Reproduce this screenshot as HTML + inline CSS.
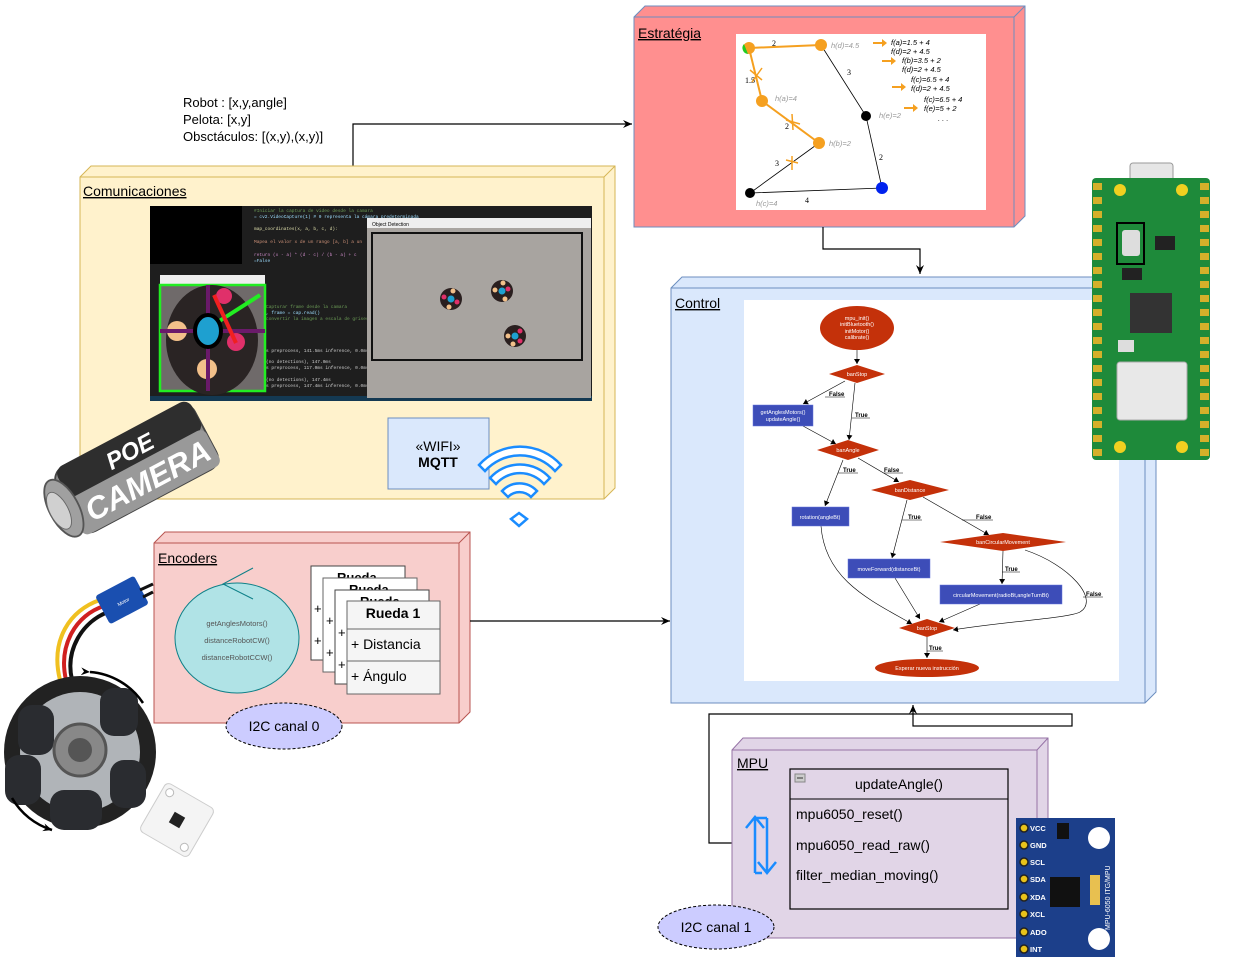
<!DOCTYPE html>
<html><head><meta charset="utf-8"><style>
html,body{margin:0;padding:0;background:#fff;}
svg{display:block;font-family:"Liberation Sans",sans-serif;}
</style></head><body>
<svg width="1251" height="976" viewBox="0 0 1251 976" xmlns="http://www.w3.org/2000/svg">
<defs>
<marker id="ar" markerWidth="10" markerHeight="10" refX="9" refY="5" orient="auto" markerUnits="userSpaceOnUse"><path d="M0,1 L9,5 L0,9 L3,5 z" fill="#000"/></marker>
<marker id="as" markerWidth="6" markerHeight="6" refX="5" refY="3" orient="auto" markerUnits="userSpaceOnUse"><path d="M0,0 L5,3 L0,6 z" fill="#000"/></marker>
</defs>

<text x="183" y="107" font-size="13">Robot : [x,y,angle]</text>
<text x="183" y="124" font-size="13">Pelota: [x,y]</text>
<text x="183" y="141" font-size="13">Obsctáculos: [(x,y),(x,y)]</text>
<polyline points="353,166 353,124 632,124" fill="none" stroke="#000" stroke-width="1.2" marker-end="url(#ar)"/>

<path d="M80,177 L91,166 L615,166 L615,488 L604,499 L80,499 Z" fill="#fff2cc" stroke="#d6b656"/>
<path d="M80,177 L604,177 L615,166 M604,177 L604,499" fill="none" stroke="#d6b656"/>
<text x="83" y="196" font-size="14" text-decoration="underline">Comunicaciones</text>
<rect x="150" y="206" width="442" height="195" fill="#1e1e1e"/>
<rect x="150" y="206" width="92" height="58" fill="#000"/>
<g font-family="Liberation Mono,monospace" font-size="4.5" fill="#9cdcfe">
<text x="254" y="212" fill="#6a9955">#Iniciar la captura de video desde la camara</text>
<text x="254" y="218">= cv2.VideoCapture(1)  # 0 representa la cámara predeterminada</text>
<text x="254" y="230" fill="#dcdcaa">map_coordinates(x, a, b, c, d):</text>
<text x="254" y="243" fill="#ce9178">Mapea el valor x de un rango [a, b] a un</text>
<text x="254" y="256" fill="#c586c0">return (x - a) * (d - c) / (b - a) + c</text>
<text x="254" y="262">=False</text>
<text x="266" y="308" fill="#6a9955">Capturar frame desde la camara</text>
<text x="266" y="314">, frame = cap.read()</text>
<text x="266" y="320" fill="#6a9955">convertir la imagen a escala de grises</text>
<text x="266" y="352" fill="#ccc">s preprocess, 141.5ms inference, 0.0ms</text>
<text x="266" y="363" fill="#ccc">(no detections), 147.0ms</text>
<text x="266" y="369" fill="#ccc">s preprocess, 117.0ms inference, 0.0ms</text>
<text x="266" y="381" fill="#ccc">(no detections), 147.4ms</text>
<text x="266" y="387" fill="#ccc">s preprocess, 147.4ms inference, 0.0ms</text>
</g>
<rect x="150" y="396" width="442" height="5" fill="#007acc" opacity=".3"/>
<rect x="367" y="218" width="224" height="180" fill="#a8a4a0"/>
<rect x="367" y="218" width="224" height="10" fill="#eee"/>
<text x="372" y="226" font-size="5">Object Detection</text>
<rect x="372" y="233" width="210" height="127" fill="none" stroke="#111" stroke-width="2"/>
<g><circle cx="451" cy="299" r="11" fill="#2a1f1f"/><circle cx="451" cy="299" r="3.5" fill="#1ea0d0"/><circle cx="444" cy="297" r="2.5" fill="#e0306a"/><circle cx="457" cy="302" r="2.5" fill="#e0306a"/><circle cx="453" cy="291" r="2.5" fill="#f2c08a"/><circle cx="449" cy="307" r="2.5" fill="#f2c08a"/></g>
<g><circle cx="502" cy="291" r="11" fill="#2a1f1f"/><circle cx="502" cy="291" r="3.5" fill="#1ea0d0"/><circle cx="508" cy="289" r="2.5" fill="#e0306a"/><circle cx="495" cy="290" r="2.5" fill="#f2c08a"/><circle cx="503" cy="283" r="2.5" fill="#f2c08a"/><circle cx="505" cy="299" r="2.5" fill="#f2c08a"/></g>
<g><circle cx="515" cy="336" r="11" fill="#2a1f1f"/><circle cx="515" cy="336" r="3.5" fill="#1ea0d0"/><circle cx="520" cy="331" r="2.5" fill="#e0306a"/><circle cx="520" cy="341" r="2.5" fill="#e0306a"/><circle cx="508" cy="336" r="2.5" fill="#f2c08a"/><circle cx="513" cy="344" r="2.5" fill="#f2c08a"/></g>
<rect x="160" y="275" width="105" height="117" fill="#eee"/>
<rect x="160" y="285" width="105" height="106" fill="#6f6a6a" stroke="#22ee22" stroke-width="2.5"/>
<ellipse cx="212" cy="340" rx="46" ry="55" fill="#2a2424"/>
<circle cx="177" cy="331" r="10" fill="#f2c08a"/><circle cx="207" cy="369" r="10" fill="#f2c08a"/>
<circle cx="224" cy="296" r="8" fill="#e0306a"/><circle cx="236" cy="342" r="9" fill="#e0306a"/>
<line x1="160" y1="331" x2="265" y2="331" stroke="#6a1a6a" stroke-width="4"/>
<line x1="208" y1="285" x2="208" y2="391" stroke="#6a1a6a" stroke-width="4"/>
<line x1="210" y1="327" x2="260" y2="295" stroke="#22ee22" stroke-width="4"/>
<line x1="214" y1="295" x2="236" y2="343" stroke="#f02020" stroke-width="4"/>
<ellipse cx="208" cy="331" rx="13" ry="16" fill="#1ea0d0" stroke="#000" stroke-width="4"/>

<rect x="388" y="418" width="101" height="71" fill="#dae8fc" stroke="#6c8ebf"/>
<text x="438" y="451" font-size="14" text-anchor="middle">«WIFI»</text>
<text x="438" y="467" font-size="14" font-weight="bold" text-anchor="middle">MQTT</text>
<g fill="none" stroke="#1a8cff" stroke-width="2.5">
<path d="M479,465 A55,55 0 0 1 561,465 L555,471 A47,47 0 0 0 485,471 Z" fill="#fff"/>
<path d="M490,478 A40,40 0 0 1 550,478 L544,484 A32,32 0 0 0 496,484 Z" fill="#fff"/>
<path d="M502,491 A24,24 0 0 1 537,491 L531,497 A16,16 0 0 0 508,497 Z" fill="#fff"/>
<path d="M519,513 L527,519 L519,526 L511,519 Z" fill="#fff"/>
</g>

<g transform="translate(128,472) rotate(-28) scale(0.92)">
<rect x="-75" y="-38" width="170" height="78" rx="14" fill="#8a8a8a" stroke="#444" stroke-width="2"/>
<rect x="-70" y="-40" width="165" height="38" rx="10" fill="#2e2e2e"/>
<rect x="-75" y="-4" width="170" height="44" rx="8" fill="#999"/>
<text x="-15" y="-10" font-size="26" font-weight="bold" fill="#fff" font-style="italic">POE</text>
<text x="-60" y="30" font-size="34" font-weight="bold" fill="#fff" font-style="italic">CAMERA</text>
<ellipse cx="-80" cy="2" rx="16" ry="34" fill="#a0a0a0" stroke="#555" stroke-width="2"/>
<ellipse cx="-86" cy="2" rx="10" ry="22" fill="#d0d0d0" stroke="#666"/>
</g>

<path d="M634,17 L645,6 L1025,6 L1025,216 L1014,227 L634,227 Z" fill="#ff8f8f" stroke="#6c8ebf"/>
<path d="M634,17 L1014,17 L1025,6 M1014,17 L1014,227" fill="none" stroke="#6c8ebf"/>
<text x="638" y="38" font-size="14" text-decoration="underline">Estratégia</text>
<rect x="736" y="34" width="250" height="176" fill="#fff"/>
<g>
<polyline points="749,48 821,45" stroke="#f5a020" stroke-width="2" fill="none"/>
<polyline points="749,48 762,101 819,143" stroke="#f5a020" stroke-width="2" fill="none"/>
<polyline points="821,45 866,116 882,188 750,193 819,143" stroke="#000" stroke-width="0.8" fill="none"/>
<path d="M750,70 L762,80 M752,82 L762,68 M786,120 L800,124 M792,114 L793,130 M786,160 L798,163 M792,156 L792,170" stroke="#f5a020" stroke-width="1.5"/>
<circle cx="749" cy="48" r="6" fill="#f5a020"/><path d="M744,44 A6,6 0 0 0 748,54" fill="#2c2"/>
<circle cx="821" cy="45" r="6" fill="#f5a020"/><circle cx="762" cy="101" r="6" fill="#f5a020"/><circle cx="819" cy="143" r="6" fill="#f5a020"/>
<circle cx="866" cy="116" r="5" fill="#000"/><circle cx="750" cy="193" r="5" fill="#000"/><circle cx="882" cy="188" r="6" fill="#0022ee"/>
<g font-size="8" font-family="Liberation Serif,serif">
<text x="772" y="46">2</text><text x="847" y="75">3</text><text x="745" y="83">1.5</text><text x="785" y="129">2</text><text x="775" y="166">3</text><text x="879" y="160">2</text><text x="805" y="203">4</text>
</g>
<g font-size="7.5" fill="#999" font-style="italic">
<text x="831" y="48">h(d)=4.5</text><text x="775" y="101">h(a)=4</text><text x="829" y="146">h(b)=2</text><text x="879" y="118">h(e)=2</text><text x="756" y="206">h(c)=4</text>
</g>
<g font-size="7.5" font-style="italic">
<text x="891" y="45">f(a)=1.5 + 4</text><text x="891" y="54">f(d)=2 + 4.5</text>
<text x="902" y="63">f(b)=3.5 + 2</text><text x="902" y="72">f(d)=2 + 4.5</text>
<text x="911" y="82">f(c)=6.5 + 4</text><text x="911" y="91">f(d)=2 + 4.5</text>
<text x="924" y="102">f(c)=6.5 + 4</text><text x="924" y="111">f(e)=5 + 2</text><text x="938" y="121">. . .</text>
</g>
<g fill="#f5a020"><path d="M873,42 h9 v-3 l5,4 -5,4 v-3 h-9z"/><path d="M882,60 h9 v-3 l5,4 -5,4 v-3 h-9z"/><path d="M892,86 h9 v-3 l5,4 -5,4 v-3 h-9z"/><path d="M904,107 h9 v-3 l5,4 -5,4 v-3 h-9z"/></g>
</g>
<polyline points="823,227 823,249 920,249 920,274" fill="none" stroke="#000" stroke-width="1.2" marker-end="url(#ar)"/>

<path d="M671,288 L682,277 L1156,277 L1156,692 L1145,703 L671,703 Z" fill="#dae8fc" stroke="#6c8ebf"/>
<path d="M671,288 L1145,288 L1156,277 M1145,288 L1145,703" fill="none" stroke="#6c8ebf"/>
<text x="675" y="308" font-size="14" text-decoration="underline">Control</text>
<rect x="744" y="300" width="375" height="381" fill="#fff"/>
<g stroke="#000" stroke-width="0.6" fill="none" marker-end="url(#as)">
<line x1="857" y1="350" x2="857" y2="364"/>
<line x1="845" y1="381" x2="803" y2="404"/>
<line x1="855" y1="383" x2="849" y2="440"/>
<line x1="803" y1="426" x2="836" y2="444"/>
<line x1="843" y1="460" x2="825" y2="506"/>
<line x1="858" y1="458" x2="899" y2="482"/>
<line x1="907" y1="500" x2="892" y2="558"/>
<line x1="923" y1="497" x2="989" y2="535"/>
<line x1="1003" y1="551" x2="1002" y2="584"/>
<path d="M821,526 C825,580 870,600 912,624"/>
<line x1="895" y1="578" x2="920" y2="619"/>
<line x1="980" y1="604" x2="939" y2="622"/>
<path d="M1025,550 C1070,565 1100,600 1080,612 C1070,618 1000,622 953,630"/>
<line x1="927" y1="637" x2="927" y2="658"/>
</g>
<g stroke="#000" stroke-width="0.5">
<line x1="825" y1="397" x2="845" y2="397"/><line x1="852" y1="418" x2="870" y2="418"/><line x1="838" y1="473" x2="858" y2="473"/><line x1="884" y1="473" x2="903" y2="473"/><line x1="902" y1="520" x2="922" y2="520"/><line x1="962" y1="520" x2="993" y2="520"/><line x1="1002" y1="572" x2="1020" y2="572"/><line x1="1083" y1="597" x2="1103" y2="597"/><line x1="927" y1="651" x2="943" y2="651"/>
</g>
<g font-size="6" font-weight="bold">
<text x="829" y="396">False</text><text x="855" y="417">True</text><text x="843" y="472">True</text><text x="884" y="472">False</text><text x="908" y="519">True</text><text x="976" y="519">False</text><text x="1005" y="571">True</text><text x="1086" y="596">False</text><text x="929" y="650">True</text>
</g>
<g fill="#c4310a">
<ellipse cx="857" cy="328" rx="37" ry="22"/>
<path d="M829,374 L857,365 L885,374 L857,383 Z"/>
<path d="M817,450 L848,440 L879,450 L848,460 Z"/>
<path d="M871,490 L910,480 L949,490 L910,500 Z"/>
<path d="M940,542 L1003,533 L1066,542 L1003,551 Z"/>
<path d="M899,628 L927,619 L955,628 L927,637 Z"/>
<ellipse cx="927" cy="668" rx="52" ry="9"/>
</g>
<g fill="#3d4db8" stroke="#6677dd" stroke-width="0.5">
<rect x="753" y="405" width="60" height="21"/><rect x="792" y="507" width="57" height="19"/><rect x="848" y="559" width="82" height="19"/><rect x="940" y="585" width="122" height="19"/>
</g>
<g font-size="5.5" fill="#fff" text-anchor="middle">
<text x="857" y="320">mpu_init()</text><text x="857" y="326">initBluetooth()</text><text x="857" y="333">initMotor()</text><text x="857" y="339">calibrate()</text>
<text x="857" y="376">banStop</text><text x="848" y="452">banAngle</text><text x="910" y="492">banDistance</text><text x="1003" y="544">banCircularMovement</text><text x="927" y="630">banStop</text><text x="927" y="670">Esperar nueva instrucción</text>
<text x="783" y="414">getAnglesMotors()</text><text x="783" y="421">updateAngle()</text>
<text x="820" y="519">rotation(angleBt)</text><text x="889" y="571">moveForward(distanceBt)</text><text x="1001" y="597">circularMovement(radioBt,angleTurnBt)</text>
</g>

<rect x="1130" y="163" width="43" height="30" rx="3" fill="#e6e6e6" stroke="#999"/>
<rect x="1092" y="178" width="118" height="282" rx="4" fill="#1e8a3a"/>
<g id="pads" fill="#d4b02a">
<rect x="1093" y="183" width="9" height="7"/><rect x="1093" y="197" width="9" height="7"/><rect x="1093" y="211" width="9" height="7"/><rect x="1093" y="225" width="9" height="7"/><rect x="1093" y="239" width="9" height="7"/><rect x="1093" y="253" width="9" height="7"/><rect x="1093" y="267" width="9" height="7"/><rect x="1093" y="281" width="9" height="7"/><rect x="1093" y="295" width="9" height="7"/><rect x="1093" y="309" width="9" height="7"/><rect x="1093" y="323" width="9" height="7"/><rect x="1093" y="337" width="9" height="7"/><rect x="1093" y="351" width="9" height="7"/><rect x="1093" y="365" width="9" height="7"/><rect x="1093" y="379" width="9" height="7"/><rect x="1093" y="393" width="9" height="7"/><rect x="1093" y="407" width="9" height="7"/><rect x="1093" y="421" width="9" height="7"/><rect x="1093" y="435" width="9" height="7"/><rect x="1093" y="449" width="9" height="7"/>
</g>
<use href="#pads" x="107"/>
<circle cx="1120" cy="190" r="6" fill="#f0d020"/><circle cx="1182" cy="190" r="6" fill="#f0d020"/>
<circle cx="1120" cy="447" r="6" fill="#f0d020"/><circle cx="1182" cy="447" r="6" fill="#f0d020"/>
<rect x="1117" y="223" width="27" height="41" fill="none" stroke="#000" stroke-width="2"/>
<rect x="1122" y="230" width="18" height="26" rx="3" fill="#ddd"/>
<rect x="1130" y="293" width="42" height="40" fill="#333"/>
<rect x="1155" y="236" width="20" height="14" fill="#222"/>
<rect x="1122" y="268" width="20" height="12" fill="#222"/>
<rect x="1117" y="362" width="70" height="58" rx="3" fill="#e8e8e8" stroke="#aaa"/>
<rect x="1118" y="340" width="16" height="12" fill="#ddd"/>

<path d="M154,543 L165,532 L470,532 L470,712 L459,723 L154,723 Z" fill="#f8cecc" stroke="#b85450"/>
<path d="M154,543 L459,543 L470,532 M459,543 L459,723" fill="none" stroke="#b85450"/>
<text x="158" y="563" font-size="14" text-decoration="underline">Encoders</text>
<ellipse cx="237" cy="638" rx="62" ry="55" fill="#b0e3e6" stroke="#0e8088"/>
<path d="M253,568 L223,584 L253,599" fill="none" stroke="#0e8088"/>
<g font-size="7.5" fill="#555" text-anchor="middle">
<text x="237" y="626">getAnglesMotors()</text><text x="237" y="643">distanceRobotCW()</text><text x="237" y="660">distanceRobotCCW()</text>
</g>
<g stroke="#666" stroke-width="1" font-size="13">
<rect x="311" y="566" width="94" height="94" fill="#fff" stroke="#444"/>
<text x="337" y="582" font-weight="bold" stroke="none">Rueda</text>
<text x="314" y="613" stroke="none">+</text><text x="314" y="645" stroke="none">+</text>
<rect x="323" y="578" width="94" height="94" fill="#fff"/>
<text x="349" y="594" font-weight="bold" stroke="none">Rueda</text>
<text x="326" y="625" stroke="none">+</text><text x="326" y="657" stroke="none">+</text>
<rect x="335" y="590" width="94" height="94" fill="#fff" stroke="#444"/>
<text x="360" y="606" font-weight="bold" stroke="none">Rueda</text>
<text x="338" y="637" stroke="none">+</text><text x="338" y="669" stroke="none">+</text>
<rect x="347" y="601" width="93" height="93" fill="#f5f5f5"/>
<line x1="347" y1="629" x2="440" y2="629"/><line x1="347" y1="661" x2="440" y2="661"/>
<text x="393" y="618" font-weight="bold" text-anchor="middle" stroke="none" font-size="14">Rueda 1</text>
<text x="351" y="649" stroke="none" font-size="14">+ Distancia</text>
<text x="351" y="681" stroke="none" font-size="14">+ Ángulo</text>
</g>
<ellipse cx="284" cy="726" rx="58" ry="23" fill="#ccccff" stroke="#000" stroke-dasharray="3,2"/>
<text x="284" y="731" font-size="14" text-anchor="middle">I2C canal 0</text>
<line x1="470" y1="621" x2="670" y2="621" stroke="#000" stroke-width="1.2" marker-end="url(#ar)"/>

<path d="M60,680 C50,640 70,610 100,600" fill="none" stroke="#f0c020" stroke-width="4"/>
<path d="M66,680 C58,645 76,615 104,606" fill="none" stroke="#d02020" stroke-width="4"/>
<path d="M72,680 C65,650 82,622 108,612" fill="none" stroke="#111" stroke-width="4"/>
<g transform="translate(122,600) rotate(-28)"><rect x="-22" y="-16" width="44" height="32" rx="3" fill="#1a4fb0"/><text x="-6" y="4" font-size="5" fill="#fff">Motor</text></g>
<path d="M140,590 L153,584 M143,597 L153,592" stroke="#111" stroke-width="3"/>
<circle cx="80" cy="752" r="76" fill="#222"/>
<circle cx="80" cy="752" r="60" fill="#b0b4b8"/>
<g fill="#2a2c30">
<rect x="18" y="705" width="36" height="50" rx="14"/><rect x="100" y="688" width="38" height="48" rx="14"/><rect x="110" y="760" width="36" height="48" rx="14"/><rect x="50" y="790" width="52" height="40" rx="14"/><rect x="5" y="755" width="36" height="50" rx="14"/>
</g>
<circle cx="80" cy="750" r="26" fill="#888" stroke="#555" stroke-width="3"/>
<circle cx="80" cy="750" r="12" fill="#555"/>
<path d="M90,672 A70,70 0 0 1 143,703" fill="none" stroke="#000" stroke-width="2.5" marker-start="url(#ar)"/>
<path d="M12,798 A70,70 0 0 0 52,830" fill="none" stroke="#000" stroke-width="2.5" marker-end="url(#ar)"/>
<g transform="translate(177,820) rotate(30)"><rect x="-28" y="-28" width="56" height="56" rx="5" fill="#f4f4f4" stroke="#ccc"/><rect x="-6" y="-6" width="12" height="12" fill="#222"/><circle cx="-20" cy="-20" r="4" fill="#fff" stroke="#bbb"/><circle cx="20" cy="20" r="4" fill="#fff" stroke="#bbb"/></g>

<polyline points="732,843 709,843 709,714 913,714" fill="none" stroke="#000" stroke-width="1.2"/>
<line x1="913" y1="714" x2="913" y2="705" stroke="#000" stroke-width="1.2" marker-end="url(#ar)"/>
<rect x="913" y="714" width="159" height="12" fill="none" stroke="#000" stroke-width="1.2"/>

<path d="M732,750 L743,738 L1048,738 L1048,926 L1037,938 L732,938 Z" fill="#e1d5e7" stroke="#9673a6"/>
<path d="M732,750 L1037,750 L1048,738 M1037,750 L1037,938" fill="none" stroke="#9673a6"/>
<text x="737" y="768" font-size="14" text-decoration="underline">MPU</text>
<rect x="790" y="769" width="218" height="140" fill="#e1d5e7" stroke="#000" stroke-width="1.2"/>
<line x1="790" y1="799" x2="1008" y2="799" stroke="#000"/>
<rect x="795" y="774" width="10" height="8" fill="#ccc" stroke="#888"/><line x1="797" y1="778" x2="803" y2="778" stroke="#333"/>
<text x="899" y="789" font-size="14" text-anchor="middle">updateAngle()</text>
<text x="796" y="819" font-size="14">mpu6050_reset()</text>
<text x="796" y="850" font-size="14">mpu6050_read_raw()</text>
<text x="796" y="880" font-size="14">filter_median_moving()</text>
<g fill="none" stroke="#1a8cff" stroke-width="2.5">
<path d="M755,873 L755,818 M746,828 L755,817 L764,828"/>
<path d="M755,818 L767,818 M767,818 L767,872 M758,862 L767,873 L776,862 M755,873 L762,873"/>
</g>
<ellipse cx="716" cy="927" rx="58" ry="22" fill="#ccccff" stroke="#000" stroke-dasharray="3,2"/>
<text x="716" y="932" font-size="14" text-anchor="middle">I2C canal 1</text>
<rect x="1016" y="818" width="99" height="139" fill="#1c3f8a"/>
<g fill="#e8c21a" stroke="#222" stroke-width="1.5"><circle cx="1024" cy="828" r="4"/><circle cx="1024" cy="845" r="4"/><circle cx="1024" cy="862" r="4"/><circle cx="1024" cy="879" r="4"/><circle cx="1024" cy="897" r="4"/><circle cx="1024" cy="914" r="4"/><circle cx="1024" cy="932" r="4"/><circle cx="1024" cy="949" r="4"/></g>
<g font-size="7.5" fill="#fff" font-weight="bold"><text x="1030" y="831">VCC</text><text x="1030" y="848">GND</text><text x="1030" y="865">SCL</text><text x="1030" y="882">SDA</text><text x="1030" y="900">XDA</text><text x="1030" y="917">XCL</text><text x="1030" y="935">ADO</text><text x="1030" y="952">INT</text></g>
<circle cx="1099" cy="838" r="11" fill="#fff"/><circle cx="1099" cy="939" r="11" fill="#fff"/>
<rect x="1050" y="877" width="30" height="30" fill="#111"/>
<rect x="1057" y="823" width="12" height="16" fill="#111"/>
<rect x="1090" y="875" width="10" height="30" fill="#e8c050"/>
<text x="1110" y="930" font-size="7" fill="#fff" transform="rotate(-90 1110 930)">MPU-6050 ITG/MPU</text>
</svg>
</body></html>
